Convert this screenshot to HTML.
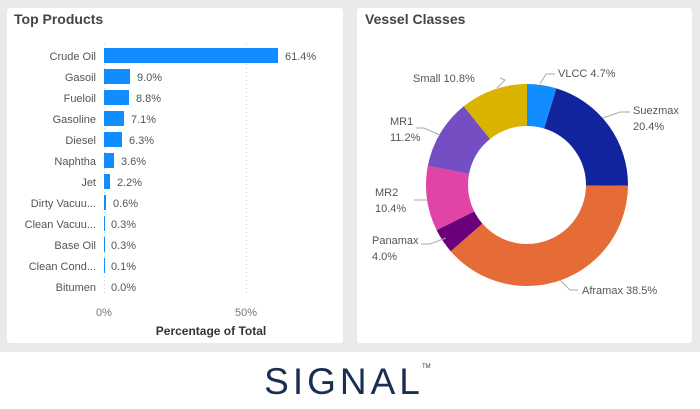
<!DOCTYPE html>
<html><head><style>
body{margin:0;width:700px;height:409px;background:#fff;font-family:"Liberation Sans",sans-serif;overflow:hidden;position:relative}
.bg{position:absolute;left:0;top:0;width:700px;height:352px;background:#e9eaec}
.card{position:absolute;background:#fff;border-radius:3px}
</style></head><body>
<div class="bg"></div>
<div class="card" style="left:7px;top:8px;width:336px;height:335px"></div>
<div class="card" style="left:357px;top:8px;width:335px;height:335px"></div>
<svg width="700" height="409" style="position:absolute;left:0;top:0" font-family="Liberation Sans, sans-serif">
<text x="14" y="24" font-size="14" font-weight="bold" fill="#444">Top Products</text>
<text x="365" y="24" font-size="14" font-weight="bold" fill="#444">Vessel Classes</text>
<line x1="104.5" y1="44" x2="104.5" y2="296" stroke="#ccc" stroke-dasharray="1,3"/>
<line x1="246.5" y1="44" x2="246.5" y2="296" stroke="#ccc" stroke-dasharray="1,3"/>
<g fill="#118dff">
<rect x="104" y="48" width="174" height="15"/>
<rect x="104" y="69" width="26" height="15"/>
<rect x="104" y="90" width="25" height="15"/>
<rect x="104" y="111" width="20" height="15"/>
<rect x="104" y="132" width="18" height="15"/>
<rect x="104" y="153" width="10" height="15"/>
<rect x="104" y="174" width="6" height="15"/>
<rect x="104" y="195" width="2" height="15"/>
<rect x="104" y="216" width="1" height="15"/>
<rect x="104" y="237" width="1" height="15"/>
<rect x="104" y="258" width="1" height="15"/>
</g>
<g font-size="11" fill="#555" text-anchor="end">
<text x="96" y="60">Crude Oil</text><text x="96" y="81">Gasoil</text><text x="96" y="102">Fueloil</text>
<text x="96" y="123">Gasoline</text><text x="96" y="144">Diesel</text><text x="96" y="165">Naphtha</text>
<text x="96" y="186">Jet</text><text x="96" y="207">Dirty Vacuu...</text><text x="96" y="228">Clean Vacuu...</text>
<text x="96" y="249">Base Oil</text><text x="96" y="270">Clean Cond...</text><text x="96" y="291">Bitumen</text>
</g>
<g font-size="11" fill="#555">
<text x="285" y="60">61.4%</text><text x="137" y="81">9.0%</text><text x="136" y="102">8.8%</text>
<text x="131" y="123">7.1%</text><text x="129" y="144">6.3%</text><text x="121" y="165">3.6%</text>
<text x="117" y="186">2.2%</text><text x="113" y="207">0.6%</text><text x="111" y="228">0.3%</text>
<text x="111" y="249">0.3%</text><text x="111" y="270">0.1%</text><text x="111" y="291">0.0%</text>
</g>
<g font-size="11" fill="#777" text-anchor="middle"><text x="104" y="316">0%</text><text x="246" y="316">50%</text></g>
<text x="211" y="335" font-size="12" font-weight="bold" fill="#333" text-anchor="middle">Percentage of Total</text>
<g transform="rotate(-90 527 185)" fill="none" stroke-width="42">
<circle cx="527" cy="185" r="80" stroke="#118dff" stroke-dasharray="23.62 502.65" stroke-dashoffset="0"/>
<circle cx="527" cy="185" r="80" stroke="#12239e" stroke-dasharray="102.54 502.65" stroke-dashoffset="-23.62"/>
<circle cx="527" cy="185" r="80" stroke="#e66c37" stroke-dasharray="193.52 502.65" stroke-dashoffset="-126.16"/>
<circle cx="527" cy="185" r="80" stroke="#6b007b" stroke-dasharray="20.11 502.65" stroke-dashoffset="-319.68"/>
<circle cx="527" cy="185" r="80" stroke="#e044a7" stroke-dasharray="52.28 502.65" stroke-dashoffset="-339.79"/>
<circle cx="527" cy="185" r="80" stroke="#744ec2" stroke-dasharray="56.30 502.65" stroke-dashoffset="-392.07"/>
<circle cx="527" cy="185" r="80" stroke="#d9b300" stroke-dasharray="54.29 502.65" stroke-dashoffset="-448.37"/>
</g>
<g stroke="#aaa" fill="none">
<polyline points="540,84 546,74 555,74"/>
<polyline points="603,118 620,112 630,112"/>
<polyline points="560,280 570,290 578,290"/>
<polyline points="446,238 430,244 421,244"/>
<polyline points="427,200 414,200"/>
<polyline points="440,135 424,128 416,128"/>
<polyline points="497,88 505,80 500,78"/>
</g>
<g font-size="11" fill="#555">
<text x="558" y="77">VLCC 4.7%</text>
<text x="633" y="114">Suezmax</text><text x="633" y="130">20.4%</text>
<text x="582" y="294">Aframax 38.5%</text>
<text x="372" y="244">Panamax</text><text x="372" y="260">4.0%</text>
<text x="375" y="196">MR2</text><text x="375" y="212">10.4%</text>
<text x="390" y="125">MR1</text><text x="390" y="141">11.2%</text>
<text x="413" y="82">Small 10.8%</text>
</g>
<text x="344" y="394" font-size="37" fill="#1a2f50" text-anchor="middle" letter-spacing="4">SIGNAL</text>
<text x="422" y="368" font-size="6" fill="#1a2f50">TM</text>
</svg>
</body></html>
